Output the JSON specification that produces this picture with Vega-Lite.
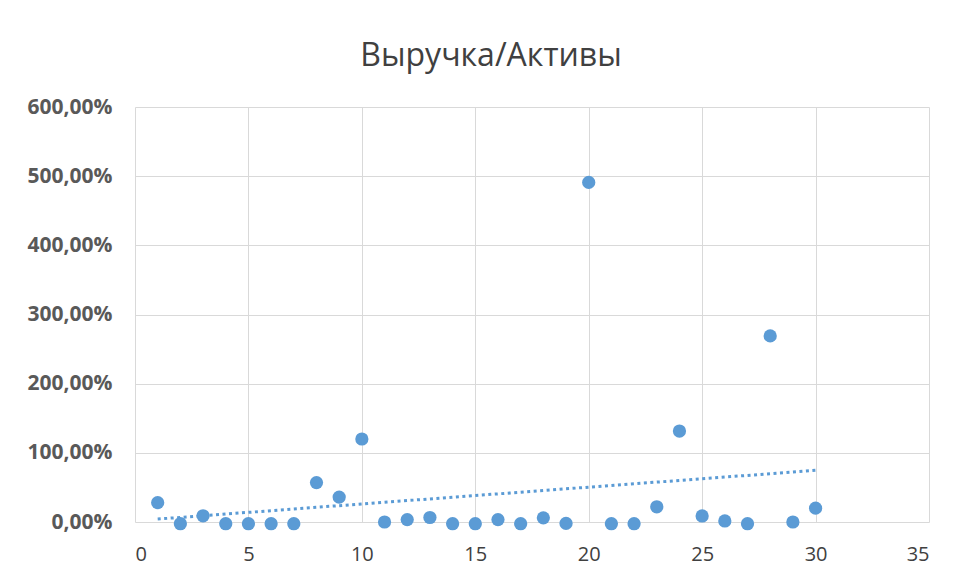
{
  "$schema": "https://vega.github.io/schema/vega-lite/v6.json",
  "width": 794,
  "height": 415,
  "autosize": {"type": "none"},
  "padding": {"left": 135, "top": 107, "right": 40, "bottom": 58},
  "background": "white",
  "config": {
    "locale": {"number": {"decimal": ",", "thousands": " ", "grouping": [3], "currency": ["", " ₽"]}},
    "view": {"stroke": null},
    "font": "Open Sans"
  },
  "title": {
    "text": "Выручка/Активы",
    "fontSize": 32,
    "fontWeight": "normal",
    "color": "#404040",
    "font": "Open Sans",
    "anchor": "middle",
    "dx": -41,
    "offset": 23
  },
  "data": {
    "values": [
      {"n": 1, "v": 0.28}, {"n": 2, "v": -0.025}, {"n": 3, "v": 0.09}, {"n": 4, "v": -0.025},
      {"n": 5, "v": -0.025}, {"n": 6, "v": -0.025}, {"n": 7, "v": -0.025}, {"n": 8, "v": 0.57},
      {"n": 9, "v": 0.36}, {"n": 10, "v": 1.20}, {"n": 11, "v": 0.0}, {"n": 12, "v": 0.035},
      {"n": 13, "v": 0.065}, {"n": 14, "v": -0.025}, {"n": 15, "v": -0.025}, {"n": 16, "v": 0.035},
      {"n": 17, "v": -0.025}, {"n": 18, "v": 0.06}, {"n": 19, "v": -0.02}, {"n": 20, "v": 4.91},
      {"n": 21, "v": -0.025}, {"n": 22, "v": -0.025}, {"n": 23, "v": 0.22}, {"n": 24, "v": 1.315},
      {"n": 25, "v": 0.087}, {"n": 26, "v": 0.015}, {"n": 27, "v": -0.025}, {"n": 28, "v": 2.69},
      {"n": 29, "v": 0.0}, {"n": 30, "v": 0.20}
    ]
  },
  "encoding": {
    "x": {
      "field": "n", "type": "quantitative",
      "scale": {"domain": [0, 35], "nice": false},
      "axis": {
        "title": null, "values": [0, 5, 10, 15, 20, 25, 30, 35],
        "grid": true, "gridColor": "#d9d9d9", "gridWidth": 1,
        "domain": false, "ticks": false,
        "labelFontSize": 20, "labelColor": "#404040", "labelPadding": 22,
        "labelFont": "Open Sans"
      }
    },
    "y": {
      "field": "v", "type": "quantitative",
      "scale": {"domain": [0, 6], "nice": false},
      "axis": {
        "title": null, "values": [0, 1, 2, 3, 4, 5, 6], "format": ".2%",
        "grid": true, "gridColor": "#d9d9d9", "gridWidth": 1,
        "domain": false, "ticks": false,
        "labelFontSize": 21, "labelFontWeight": "bold", "labelColor": "#595959", "labelPadding": 23,
        "labelFont": "Open Sans"
      }
    }
  },
  "layer": [
    {
      "transform": [{"regression": "v", "on": "n"}],
      "mark": {"type": "line", "color": "#5B9BD5", "strokeWidth": 3, "strokeDash": [3, 3.5]}
    },
    {
      "mark": {"type": "circle", "color": "#5B9BD5", "opacity": 1, "size": 175}
    }
  ]
}
